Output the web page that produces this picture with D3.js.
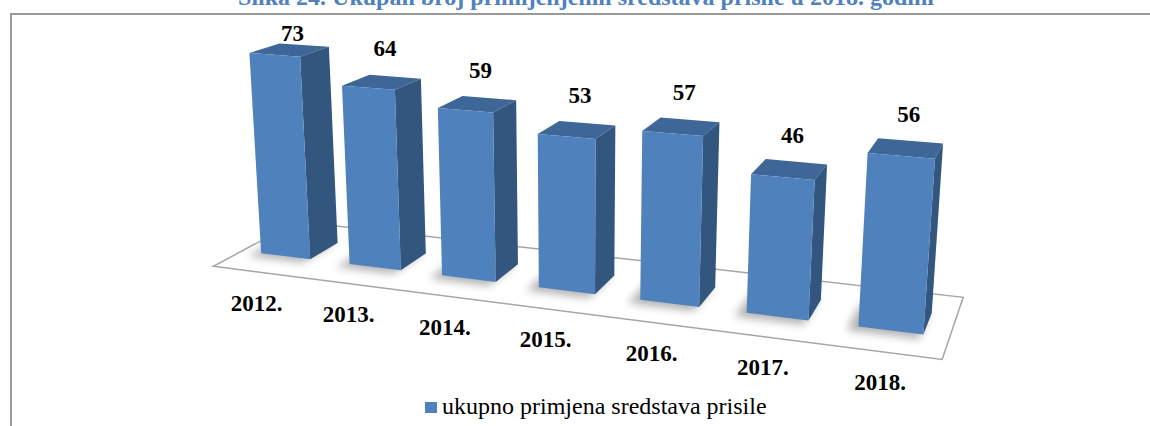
<!DOCTYPE html>
<html>
<head>
<meta charset="utf-8">
<script src="https://cdn.jsdelivr.net/npm/d3@7"></script>
<style>
  body { margin: 0; background: #fff; }
  svg { display: block; }
</style>
</head>
<body>
<div id="chart"></div>
<script>
const categories = ['2012.', '2013.', '2014.', '2015.', '2016.', '2017.', '2018.'];
const values = [73, 64, 59, 53, 57, 46, 56];
const seriesName = 'ukupno primjena sredstava prisile';
const title = 'Slika 24. Ukupan broj primijenjenih sredstava prisile u 2018. godini';

const width = 1150;
const height = 426;

const svg = d3.select('#chart')
	.append('svg')
	.attr('width', width)
	.attr('height', height);

// soft shadow under the columns
const defs = svg.append('defs');
defs.append('filter')
	.attr('id', 'blur')
	.attr('x', '-50%').attr('y', '-50%')
	.attr('width', '200%').attr('height', '200%')
	.append('feGaussianBlur')
	.attr('stdDeviation', 4);

// world units: one category = 1, floor depth, value axis height
const floorDepth = 1.6;
const x = d3.scaleBand()
	.domain(categories)
	.range([0, categories.length])
	.paddingInner(0.44)
	.paddingOuter(0.22);
const y = d3.scaleLinear().domain([0, 80]).range([0, 80 * 0.02796]);
const barDepth = x.bandwidth();
const z0 = (floorDepth - barDepth) / 2;
const z1 = z0 + barDepth;

// perspective camera (roughly Excel's 20° / 15° 3-D rotation)
const yaw = 20 * Math.PI / 180;
const pitch = 15.4 * Math.PI / 180;
const dist = 14;
const focal = 1500;
const cx = 577;
const cy = 180;
const target = [categories.length / 2, 1, floorDepth / 2];

function project(X, Y, Z) {
	const px = X - target[0], py = Y - target[1], pz = Z - target[2];
	const xr = px * Math.cos(yaw) + pz * Math.sin(yaw);
	const zr = -px * Math.sin(yaw) + pz * Math.cos(yaw);
	const yc = py * Math.cos(pitch) + zr * Math.sin(pitch);
	const zc = -py * Math.sin(pitch) + zr * Math.cos(pitch) + dist;
	return [cx + focal * xr / zc, cy - focal * yc / zc];
}

const poly = (pts) => pts.map((p) => project(...p).join(',')).join(' ');

// frame
svg.append('path')
	.attr('d', `M11,${height} L11,14 L${width},14`)
	.attr('fill', 'none')
	.attr('stroke', '#9a9a9a')
	.attr('stroke-width', 2);

// title (cut off at top, as in the source)
svg.append('text')
	.attr('x', 586)
	.attr('y', 5)
	.attr('text-anchor', 'middle')
	.style('font-family', '"Liberation Serif", "Times New Roman", serif')
	.style('font-weight', 'bold')
	.style('font-size', '24px')
	.attr('fill', '#4F81BD')
	.text(title);

// floor
const n = categories.length;
svg.append('polygon')
	.attr('points', poly([[0, 0, 0], [n, 0, 0], [n, 0, floorDepth], [0, 0, floorDepth]]))
	.attr('fill', '#fff')
	.attr('stroke', '#a6a6a6')
	.attr('stroke-width', 1.5);

// shadows
svg.append('g')
	.selectAll('polygon')
	.data(categories)
	.join('polygon')
	.attr('points', (d) => {
		const a = x(d) - 0.08, b = x(d) + x.bandwidth() - 0.02;
		return poly([[a, 0, z0 - 0.12], [b, 0, z0 - 0.12], [b, 0, z1], [a, 0, z1]]);
	})
	.attr('fill', '#000')
	.attr('opacity', 0.3)
	.attr('filter', 'url(#blur)');

// columns, left to right (the right end is nearer)
const bars = svg.append('g')
	.selectAll('g')
	.data(categories.map((c, i) => ({ cat: c, value: values[i] })))
	.join('g');

bars.append('polygon')
	.attr('points', (d) => {
		const a = x(d.cat), b = a + x.bandwidth(), h = y(d.value);
		return poly([[a, h, z0], [b, h, z0], [b, h, z1], [a, h, z1]]);
	})
	.attr('fill', '#3E6797');

bars.append('polygon')
	.attr('points', (d) => {
		const b = x(d.cat) + x.bandwidth(), h = y(d.value);
		return poly([[b, 0, z0], [b, 0, z1], [b, h, z1], [b, h, z0]]);
	})
	.attr('fill', '#33567E');

bars.append('polygon')
	.attr('points', (d) => {
		const a = x(d.cat), b = a + x.bandwidth(), h = y(d.value);
		return poly([[a, 0, z0], [b, 0, z0], [b, h, z0], [a, h, z0]]);
	})
	.attr('fill', '#4F81BD');

// value labels
bars.append('text')
	.attr('x', (d) => project(x(d.cat) + x.bandwidth() / 2, y(d.value), floorDepth / 2)[0] + 3)
	.attr('y', (d) => Math.max(33, project(x(d.cat) + x.bandwidth() / 2, y(d.value), floorDepth / 2)[1] - 34))
	.attr('text-anchor', 'middle')
	.attr('dominant-baseline', 'central')
	.style('font-family', '"Liberation Serif", "Times New Roman", serif')
	.style('font-weight', 'bold')
	.style('font-size', '23px')
	.text((d) => d.value);

// category labels along the front edge
svg.append('g')
	.selectAll('text')
	.data(categories)
	.join('text')
	.attr('x', (d) => project(x(d) + x.bandwidth() / 2, 0, 0)[0] - 1)
	.attr('y', (d) => project(x(d) + x.bandwidth() / 2, 0, 0)[1] + 31)
	.attr('text-anchor', 'middle')
	.attr('dominant-baseline', 'central')
	.style('font-family', '"Liberation Serif", "Times New Roman", serif')
	.style('font-weight', 'bold')
	.style('font-size', '23px')
	.text((d) => d);

// legend
const legend = svg.append('g').attr('transform', 'translate(425,402)');
legend.append('rect')
	.attr('width', 12)
	.attr('height', 11)
	.attr('fill', '#4F81BD');
legend.append('text')
	.attr('x', 17)
	.attr('y', 12)
	.style('font-family', '"Liberation Serif", "Times New Roman", serif')
	.style('font-size', '24px')
	.text(seriesName);
</script>
</body>
</html>
